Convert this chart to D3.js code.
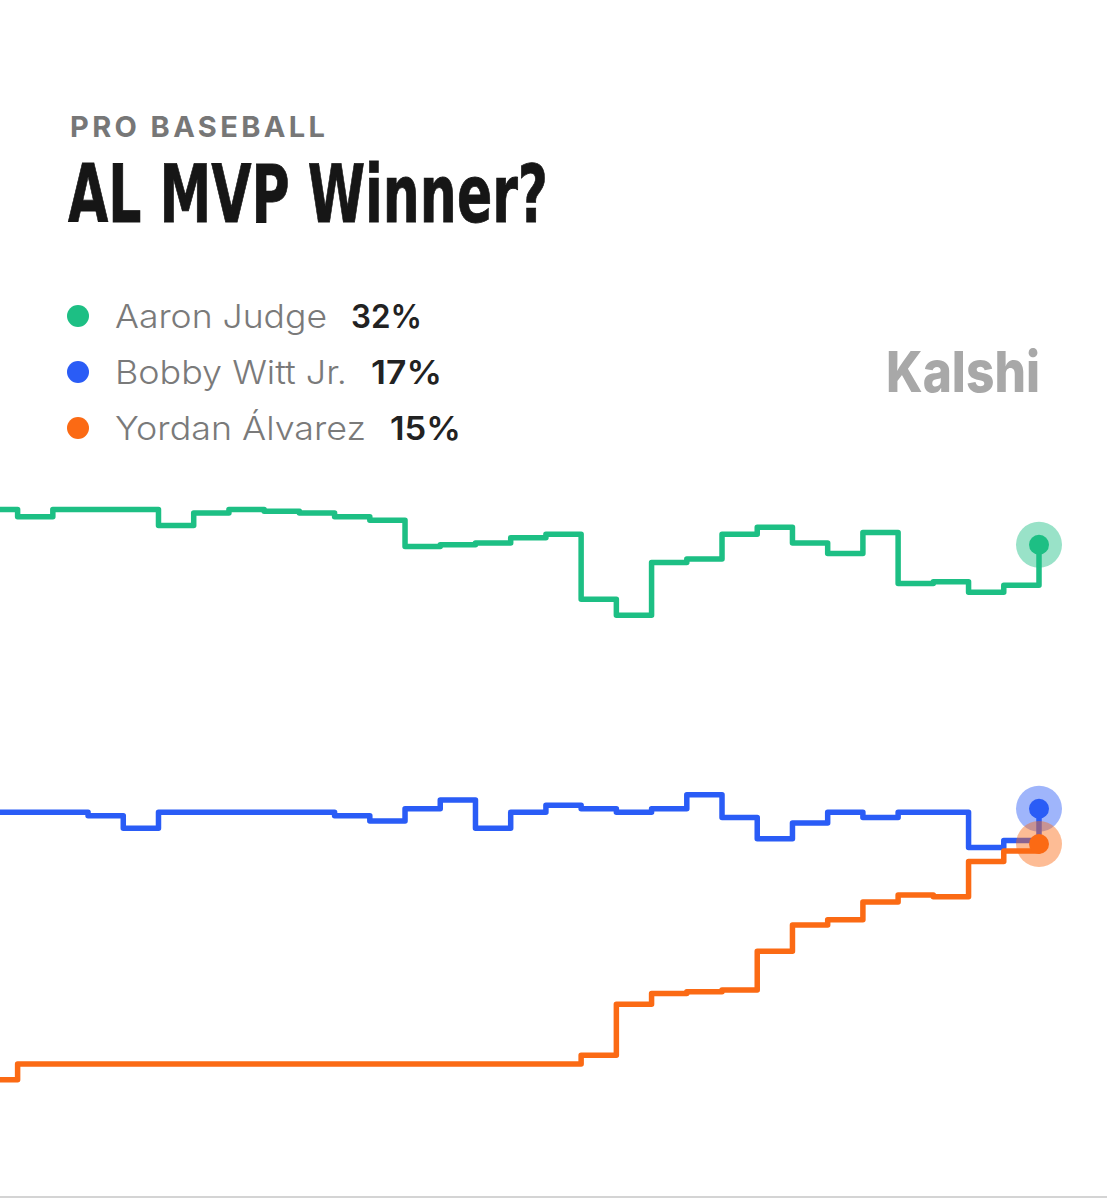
<!DOCTYPE html>
<html>
<head>
<meta charset="utf-8">
<script src="https://cdn.jsdelivr.net/npm/d3@7"></script>
<style>
  html, body { margin: 0; padding: 0; background: #ffffff; }
  svg { display: block; }
</style>
</head>
<body>
<script>
// ---- data ----
const periods = [-1, 0, 1, 2, 3, 4, 5, 6, 7, 8, 9, 10, 11, 12, 13, 14, 15, 16, 17, 18, 19, 20, 21, 22, 23, 24, 25, 26, 27, 28, 29];
const judge   = [34.0, 33.6, 34.0, 34.0, 34.0, 33.1, 33.8, 34.0, 33.9, 33.8, 33.6, 33.4, 31.9, 32.0, 32.1, 32.4, 32.6, 28.9, 28.0, 31.0, 31.2, 32.6, 33.0, 32.1, 31.5, 32.7, 29.8, 29.9, 29.3, 29.7, 32.0];
const witt    = [16.8, 16.8, 16.8, 16.6, 15.9, 16.8, 16.8, 16.8, 16.8, 16.8, 16.6, 16.3, 17.0, 17.5, 15.9, 16.8, 17.2, 17.0, 16.8, 17.0, 17.8, 16.5, 15.3, 16.2, 16.8, 16.5, 16.8, 16.8, 14.8, 15.2, 17.0];
const alvarez = [1.6, 2.5, 2.5, 2.5, 2.5, 2.5, 2.5, 2.5, 2.5, 2.5, 2.5, 2.5, 2.5, 2.5, 2.5, 2.5, 2.5, 3.0, 5.9, 6.5, 6.6, 6.7, 8.9, 10.4, 10.7, 11.7, 12.1, 12.0, 14.0, 14.6, 15.0];
const seriesNames = ["Aaron Judge", "Bobby Witt Jr.", "Yordan Álvarez"];
const seriesLabels = ["32%", "17%", "15%"];
const seriesColors = ["#1dbf84", "#2a5cf6", "#fb6a14"];
const eyebrow = "PRO BASEBALL";
const title = "AL MVP Winner?";
const brand = "Kalshi";

const W = 1107, H = 1200;
const svg = d3.select("body").append("svg").attr("width", W).attr("height", H);
svg.append("rect").attr("width", W).attr("height", H).attr("fill", "#ffffff");

// header
svg.append("text").attr("x", 70).attr("y", 137)
  .attr("font-family", "Inter, Roboto, 'Liberation Sans', sans-serif")
  .attr("font-weight", 700).attr("font-size", 29).attr("fill", "#777777")
  .attr("textLength", 255).attr("lengthAdjust", "spacing")
  .text(eyebrow);

svg.append("text").attr("x", 68).attr("y", 222)
  .attr("font-family", "'Liberation Sans Narrow', 'DejaVu Sans Condensed', 'Liberation Sans', sans-serif")
  .attr("font-weight", 700).attr("font-size", 81).attr("fill", "#161616")
  .attr("stroke", "#161616").attr("stroke-width", 0.8)
  .attr("textLength", 480).attr("lengthAdjust", "spacingAndGlyphs")
  .text(title);

// legend
const legendY = [316, 372, 428];
const nameWidths = [212, 232, 251];
const lg = svg.append("g");
seriesNames.forEach((name, i) => {
  lg.append("circle").attr("cx", 78).attr("cy", legendY[i]).attr("r", 11).attr("fill", seriesColors[i]);
  lg.append("text").attr("x", 115).attr("y", legendY[i] + 12)
    .attr("font-family", "Inter, Roboto, sans-serif").attr("font-weight", 300)
    .attr("font-size", 33).attr("fill", "#7a7a7a")
    .attr("textLength", nameWidths[i]).attr("lengthAdjust", "spacingAndGlyphs")
    .text(name);
  lg.append("text").attr("x", 115 + nameWidths[i] + 24).attr("y", legendY[i] + 12)
    .attr("font-family", "Inter, Roboto, sans-serif").attr("font-weight", 600)
    .attr("font-size", 33).attr("fill", "#222222")
    .attr("textLength", 71).attr("lengthAdjust", "spacingAndGlyphs")
    .text(seriesLabels[i]);
});

// brand
svg.append("text").attr("x", 886).attr("y", 392)
  .attr("font-family", "Inter, 'Liberation Sans', sans-serif").attr("font-weight", 800)
  .attr("font-size", 57).attr("fill", "#a8a8a8")
  .attr("textLength", 154).attr("lengthAdjust", "spacingAndGlyphs")
  .text(brand);

// scales
const x = d3.scaleLinear().domain([-0.5, 29]).range([0, 1039]);
const y = d3.scaleLinear().domain([0, 35]).range([1108, 492]);

const line = d3.line()
  .x((d, i) => x(periods[i]))
  .y(d => y(d))
  .curve(d3.curveStepAfter);

const allSeries = [judge, witt, alvarez];
const plot = svg.append("g");
allSeries.forEach((vals, i) => {
  plot.append("path").attr("d", line(vals))
    .attr("fill", "none").attr("stroke", seriesColors[i])
    .attr("stroke-width", 5.5).attr("stroke-linejoin", "round").attr("stroke-linecap", "round");
});
allSeries.forEach((vals, i) => {
  const last = vals.length - 1;
  plot.append("circle").attr("cx", x(periods[last])).attr("cy", y(vals[last]))
    .attr("r", 23).attr("fill", seriesColors[i]).attr("fill-opacity", 0.45);
  plot.append("circle").attr("cx", x(periods[last])).attr("cy", y(vals[last]))
    .attr("r", 10).attr("fill", seriesColors[i]);
});

// bottom rule
svg.append("line").attr("x1", 0).attr("x2", W).attr("y1", 1197).attr("y2", 1197)
  .attr("stroke", "#d4d4d4").attr("stroke-width", 2);
</script>
</body>
</html>
